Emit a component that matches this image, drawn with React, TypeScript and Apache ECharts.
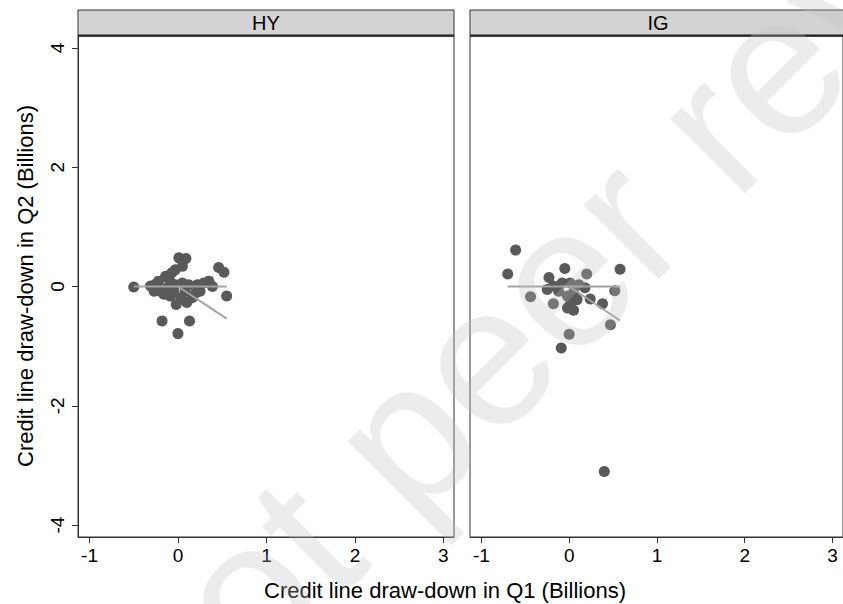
import React, { useEffect, useRef } from "react";
import * as echarts from "echarts";

// HY panel: Q1 vs Q2 credit line draw-downs (billions)
const hyQ1 = [-0.50, -0.31, -0.25, -0.27, -0.20, -0.22, -0.14, -0.07, -0.03, 0.01, 0.09, 0.05, -0.12, -0.09, -0.03, 0.05, 0.12, 0.22, 0.29, 0.35, 0.39, -0.16, -0.09, -0.05, -0.02, 0.03, 0.08, 0.10, 0.16, 0.20, 0.25, 0.46, 0.52, 0.55, -0.18, 0.13, 0.00];
const hyQ2 = [-0.01, 0.01, 0.04, -0.08, -0.08, 0.09, 0.17, 0.23, 0.28, 0.48, 0.47, 0.34, -0.02, 0.09, 0.03, 0.06, 0.03, 0.03, 0.06, 0.09, 0.00, -0.13, -0.16, -0.08, -0.30, -0.19, -0.08, -0.27, -0.19, -0.11, -0.08, 0.32, 0.24, -0.16, -0.58, -0.58, -0.79];

// IG panel
const igQ1 = [-0.61, -0.70, -0.05, 0.58, -0.23, 0.20, -0.44, 0.52, -0.18, 0.38, 0.47, 0.00, -0.09, 0.40, -0.25, -0.18, -0.08, 0.01, 0.11, 0.18, -0.02, 0.01, 0.09, 0.24, -0.02, 0.05, -0.12, 0.05];
const igQ2 = [0.61, 0.21, 0.30, 0.29, 0.15, 0.21, -0.17, -0.07, -0.29, -0.29, -0.64, -0.80, -1.03, -3.10, -0.05, 0.01, 0.06, 0.06, 0.03, -0.02, -0.16, -0.30, -0.22, -0.21, -0.36, -0.40, -0.08, -0.10];

// fitted segments
const hyFlatQ1 = [-0.50, 0.55];
const hyFlatQ2 = [0, 0];
const hySlopeQ1 = [0, 0.55];
const hySlopeQ2 = [0, -0.54];
const igFlatQ1 = [-0.70, 0.58];
const igFlatQ2 = [0, 0];
const igSlopeQ1 = [0, 0.58];
const igSlopeQ2 = [0, -0.57];

const panels = ["HY", "IG"];
const xTicks = [-1, 0, 1, 2, 3];
const yTicks = [-4, -2, 0, 2, 4];
const xTitle = "Credit line draw-down in Q1 (Billions)";
const yTitle = "Credit line draw-down in Q2 (Billions)";
const watermark = "not peer reviewed";

const FONT = "'Liberation Sans', Arial, Helvetica, sans-serif";
const zip = (a: number[], b: number[]) => a.map((v, i) => [v, b[i]]);

export default function App() {
  const ref = useRef<HTMLDivElement>(null);
  useEffect(() => {
    if (!ref.current) return;
    const chart = echarts.init(ref.current, undefined, { renderer: "svg" });
    const gridLefts = [78, 470];
    const gridW = 376;
    const top = 36;
    const h = 501;
    const xAxis = [0, 1].map((i) => ({
      type: "value",
      gridIndex: i,
      min: -1.13,
      max: 3.12,
      splitLine: { show: false },
      axisLine: { show: true, onZero: false, lineStyle: { color: "#333", width: 1 } },
      axisTick: { show: true, length: 6, customValues: xTicks, lineStyle: { color: "#333" } },
      axisLabel: { customValues: xTicks, fontSize: 19, color: "#000", fontFamily: FONT, margin: 9 },
    }));
    const yAxis = [0, 1].map((i) => ({
      type: "value",
      gridIndex: i,
      min: -4.2,
      max: 4.2,
      splitLine: { show: false },
      axisLine: { show: i === 0, onZero: false, lineStyle: { color: "#333", width: 1 } },
      axisTick: { show: i === 0, length: 6, customValues: yTicks, lineStyle: { color: "#333" } },
      axisLabel: { show: i === 0, customValues: yTicks, rotate: 90, fontSize: 19, color: "#000", fontFamily: FONT, margin: 11 },
    }));
    const scatter = (i: number, q1: number[], q2: number[]) => ({
      type: "scatter",
      xAxisIndex: i,
      yAxisIndex: i,
      data: zip(q1, q2),
      symbolSize: 11,
      itemStyle: { color: "#595959", opacity: 1 },
      z: 2,
    });
    const line = (i: number, q1: number[], q2: number[]) => ({
      type: "line",
      xAxisIndex: i,
      yAxisIndex: i,
      data: zip(q1, q2),
      showSymbol: false,
      symbol: "none",
      lineStyle: { color: "#a3a3a3", width: 2 },
      z: 5,
    });
    const headerEls: any[] = [];
    panels.forEach((p, i) => {
      headerEls.push({
        type: "rect",
        shape: { x: gridLefts[i], y: 10, width: gridW, height: 26 },
        style: { fill: "#d3d3d3", stroke: "#333", lineWidth: 1 },
      });
      headerEls.push({
        type: "line",
        shape: { x1: gridLefts[i], y1: 35.5, x2: gridLefts[i] + gridW, y2: 35.5 },
        style: { stroke: "#222", lineWidth: 2 },
      });
      headerEls.push({
        type: "text",
        x: gridLefts[i] + gridW / 2,
        y: 23,
        style: { text: p, fontSize: 20, fontFamily: FONT, fill: "#000", textAlign: "center", textVerticalAlign: "middle" },
      });
    });
    chart.setOption({
      animation: false,
      backgroundColor: "#fff",
      grid: gridLefts.map((l) => ({
        left: l,
        top,
        width: gridW,
        height: h,
        show: true,
        borderColor: "#333",
        borderWidth: 1,
        backgroundColor: "transparent",
      })),
      xAxis,
      yAxis,
      series: [
        scatter(0, hyQ1, hyQ2),
        line(0, hyFlatQ1, hyFlatQ2),
        line(0, hySlopeQ1, hySlopeQ2),
        scatter(1, igQ1, igQ2),
        line(1, igFlatQ1, igFlatQ2),
        line(1, igSlopeQ1, igSlopeQ2),
      ],
      graphic: [
        ...headerEls,
        {
          type: "text",
          x: 445,
          y: 590,
          style: { text: xTitle, fontSize: 22, fontFamily: FONT, fill: "#000", textAlign: "center", textVerticalAlign: "middle" },
        },
        {
          type: "text",
          x: 25,
          y: 286,
          rotation: Math.PI / 2,
          style: { text: yTitle, fontSize: 22, fontFamily: FONT, fill: "#000", textAlign: "center", textVerticalAlign: "middle" },
        },
        {
          type: "text",
          x: 690,
          y: 150,
          rotation: Math.PI / 4,
          z: 100,
          silent: true,
          style: { text: watermark, fontSize: 200, fontFamily: FONT, fill: "rgba(190,190,190,0.29)", textAlign: "center", textVerticalAlign: "middle" },
        },
      ],
    });
    return () => chart.dispose();
  }, []);
  return <div ref={ref} style={{ position: "fixed", left: 0, top: 0, width: 843, height: 604 }} />;
}
